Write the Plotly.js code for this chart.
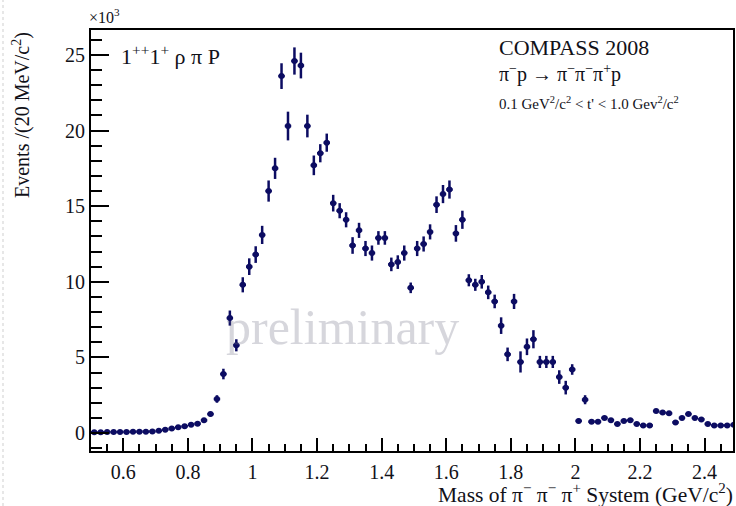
<!DOCTYPE html>
<html>
<head>
<meta charset="utf-8">
<script src="https://cdn.plot.ly/plotly-3.0.1.min.js"></script>
<style>
  html, body { margin: 0; padding: 0; background: #ffffff; }
  #chart { width: 736px; height: 506px; }
</style>
</head>
<body>
<div id="chart"></div>
<script>
// 3-pion invariant mass, 20 MeV bins (bin centres in GeV/c^2)
const massGeV = [
  0.51, 0.53, 0.55, 0.57, 0.59, 0.61, 0.63, 0.65, 0.67, 0.69,
  0.71, 0.73, 0.75, 0.77, 0.79, 0.81, 0.83, 0.85, 0.87, 0.89,
  0.91, 0.93, 0.95, 0.97, 0.99, 1.01, 1.03, 1.05, 1.07, 1.09,
  1.11, 1.13, 1.15, 1.17, 1.19, 1.21, 1.23, 1.25, 1.27, 1.29,
  1.31, 1.33, 1.35, 1.37, 1.39, 1.41, 1.43, 1.45, 1.47, 1.49,
  1.51, 1.53, 1.55, 1.57, 1.59, 1.61, 1.63, 1.65, 1.67, 1.69,
  1.71, 1.73, 1.75, 1.77, 1.79, 1.81, 1.83, 1.85, 1.87, 1.89,
  1.91, 1.93, 1.95, 1.97, 1.99, 2.01, 2.03, 2.05, 2.07, 2.09,
  2.11, 2.13, 2.15, 2.17, 2.19, 2.21, 2.23, 2.25, 2.27, 2.29,
  2.31, 2.33, 2.35, 2.37, 2.39, 2.41, 2.43, 2.45, 2.47, 2.49
];

// 1++1+ rho pi P wave intensity, events per bin in units of 10^3
const eventsK = [
  0.05, 0.05, 0.06, 0.06, 0.07, 0.07, 0.08, 0.09, 0.09, 0.10,
  0.15, 0.22, 0.30, 0.38, 0.45, 0.55, 0.62, 0.84, 1.25, 2.25,
  3.9, 7.6, 5.8, 9.8, 11.0, 11.8, 13.1, 16.0, 17.5, 23.6,
  20.3, 24.6, 24.3, 20.3, 17.7, 18.5, 19.2, 15.2, 14.7, 14.1,
  12.4, 13.4, 12.2, 11.9, 12.9, 12.9, 11.15, 11.3, 11.9, 9.6,
  12.2, 12.5, 13.3, 15.1, 15.8, 16.1, 13.2, 14.1, 10.1, 9.8,
  10.0, 9.3, 8.7, 7.1, 5.2, 8.7, 4.7, 5.7, 6.2, 4.7,
  4.7, 4.7, 3.7, 3.0, 4.2, 0.8, 2.2, 0.75, 0.75, 1.0,
  0.85, 0.6, 0.8, 0.85, 0.6, 0.5, 0.5, 1.45, 1.35, 1.3,
  0.7, 1.0, 1.25, 1.0, 0.9, 0.6, 0.5, 0.5, 0.5, 0.55
];

// statistical uncertainty per bin, units of 10^3
const errorsK = [
  0.05, 0.05, 0.05, 0.05, 0.05, 0.05, 0.05, 0.05, 0.05, 0.05,
  0.05, 0.06, 0.06, 0.07, 0.07, 0.08, 0.08, 0.10, 0.15, 0.25,
  0.35, 0.50, 0.40, 0.50, 0.55, 0.55, 0.60, 0.70, 0.70, 0.85,
  0.95, 0.90, 0.85, 0.75, 0.65, 0.60, 0.60, 0.55, 0.50, 0.50,
  0.55, 0.50, 0.50, 0.50, 0.45, 0.45, 0.45, 0.45, 0.50, 0.35,
  0.50, 0.50, 0.50, 0.55, 0.60, 0.60, 0.55, 0.60, 0.40, 0.40,
  0.45, 0.45, 0.45, 0.55, 0.45, 0.50, 0.70, 0.55, 0.60, 0.40,
  0.40, 0.40, 0.45, 0.45, 0.35, 0.15, 0.30, 0.12, 0.12, 0.12,
  0.12, 0.12, 0.12, 0.12, 0.12, 0.12, 0.12, 0.12, 0.12, 0.12,
  0.12, 0.12, 0.12, 0.12, 0.12, 0.12, 0.12, 0.12, 0.12, 0.12
];

// half bin width (GeV/c^2)
const halfBin = 0.01;

const yTickVals = [0, 5, 10, 15, 20, 25];
const xTickVals = [0.6, 0.8, 1.0, 1.2, 1.4, 1.6, 1.8, 2.0, 2.2, 2.4];
const xTickText = ['0.6', '0.8', '1', '1.2', '1.4', '1.6', '1.8', '2', '2.2', '2.4'];

const W = 736, H = 506;
const M = { l: 91, r: 3, t: 30, b: 55 };
const pw = W - M.l - M.r, ph = H - M.t - M.b;
const px = x => (x - M.l) / pw;
const py = y => (H - M.b - y) / ph;

const serif = 'Liberation Serif, Times New Roman, serif';
const ink = '#111118';
const navy = '#0c0c62';

const trace = {
  type: 'scatter',
  mode: 'markers',
  x: massGeV,
  y: eventsK,
  marker: { color: navy, size: 6, symbol: 'circle' },
  error_y: { type: 'data', array: errorsK, visible: true, color: navy, thickness: 2.5, width: 0 },
  error_x: { type: 'constant', value: halfBin, visible: true, color: navy, thickness: 2.5, width: 0 },
  hoverinfo: 'x+y'
};

const ann = (text, x, y, size, extra) => Object.assign({
  text: text, x: x, y: y, xref: 'paper', yref: 'paper',
  showarrow: false, xanchor: 'left', yanchor: 'middle',
  font: { family: serif, size: size, color: ink }
}, extra || {});

const layout = {
  width: W, height: H,
  margin: M,
  paper_bgcolor: '#ffffff',
  plot_bgcolor: '#ffffff',
  showlegend: false,
  xaxis: {
    range: [0.5, 2.488],
    tickmode: 'array', tickvals: xTickVals, ticktext: xTickText,
    ticks: 'inside', ticklen: 13, tickwidth: 2, tickcolor: '#000',
    minor: { dtick: 0.05, tick0: 0, ticks: 'inside', ticklen: 7, tickwidth: 1.5, tickcolor: '#000' },
    showline: true, linecolor: '#000', linewidth: 2, mirror: true,
    showgrid: false, zeroline: false,
    tickfont: { family: serif, size: 20, color: ink },
    ticklabelstandoff: 2
  },
  yaxis: {
    range: [-1.19, 26.65],
    tickmode: 'array', tickvals: yTickVals,
    ticks: 'inside', ticklen: 18, tickwidth: 2, tickcolor: '#000',
    minor: { dtick: 1, tick0: 0, ticks: 'inside', ticklen: 11, tickwidth: 1.5, tickcolor: '#000' },
    showline: true, linecolor: '#000', linewidth: 2, mirror: true,
    showgrid: false, zeroline: false,
    tickfont: { family: serif, size: 20, color: ink },
    ticklabelstandoff: 0
  },
  annotations: [
    ann('preliminary', px(342), py(327), 50, {
      xanchor: 'center',
      font: { family: serif, size: 50, color: 'rgba(120,120,140,0.3)' }
    }),
    ann('×10<sup>3</sup>', px(87), py(16), 16),
    ann('1<sup>++</sup>1<sup>+</sup> ρ π P', px(119), py(55), 22),
    ann('COMPASS 2008', px(497), py(47), 22),
    ann('π<sup>−</sup>p → π<sup>−</sup>π<sup>−</sup>π<sup>+</sup>p', px(497), py(73), 20),
    ann('0.1 GeV<sup>2</sup>/c<sup>2</sup> &lt; t\' &lt; 1.0 Gev<sup>2</sup>/c<sup>2</sup>', px(497), py(103), 15),
    ann('Events /(20 MeV/c<sup>2</sup>)', px(21), py(30), 20, {
      textangle: -90, xanchor: 'center', yanchor: 'top'
    }),
    ann('Mass of π<sup>−</sup> π<sup>−</sup> π<sup>+</sup> System (GeV/c<sup>2</sup>)', px(735), py(494), 21.5, {
      xanchor: 'right'
    })
  ],
  shapes: [
    {
      type: 'line', xref: 'paper', yref: 'paper',
      x0: px(3), x1: px(3), y0: py(506), y1: py(0),
      line: { color: '#cfcfcf', width: 1, dash: 'dot' }
    }
  ]
};

Plotly.newPlot('chart', [trace], layout, { displayModeBar: false, responsive: false });
</script>
</body>
</html>
